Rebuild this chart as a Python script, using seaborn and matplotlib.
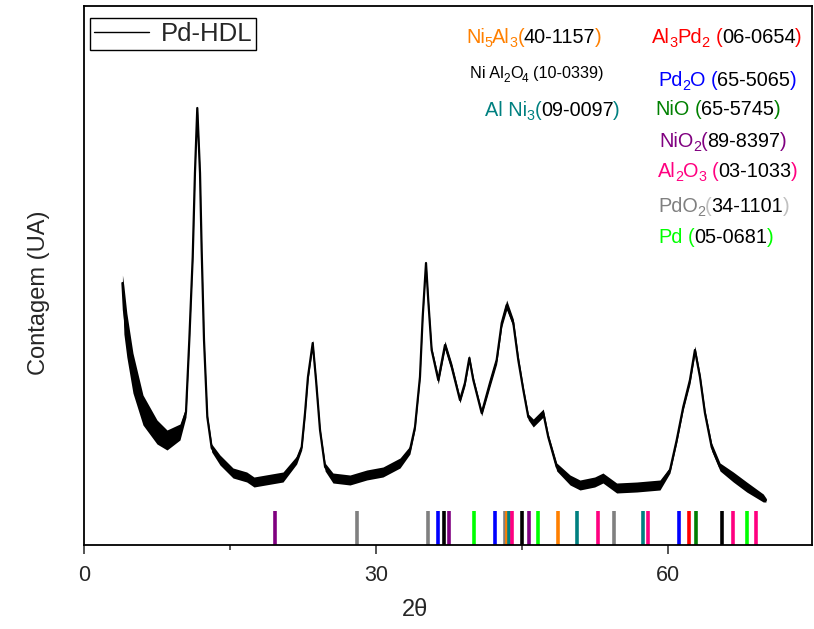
import numpy as np
import pandas as pd
import seaborn as sns
import matplotlib.pyplot as plt

# XRD pattern of Pd-HDL (arbitrary units)
two_theta = [3.95, 4.1, 4.4, 5.03, 6.06, 7.50, 8.53, 9.86, 10.48, 10.82, 11.17, 11.40,
             11.64, 11.92, 12.09, 12.33, 12.67, 13.12, 13.97, 15.31, 16.72, 17.47,
             20.45, 21.85, 22.37, 22.71, 23.01, 23.50, 23.84, 24.25, 24.77, 25.58,
             27.33, 29.05, 30.72, 32.47, 33.49, 34.01, 34.52, 34.80, 35.14, 35.37,
             35.72, 36.40, 37.09, 37.78, 38.63, 39.14, 39.59, 40.00, 40.86, 41.71,
             42.40, 42.92, 43.43, 44.11, 44.62, 45.14, 45.65, 46.16, 47.19, 47.70,
             48.57, 49.94, 50.96, 52.47, 53.32, 54.73, 56.79, 59.18, 60.21, 60.90,
             61.57, 62.26, 62.77, 63.29, 63.80, 64.49, 65.35, 66.71, 68.09, 69.79,
             70.07]
counts = [262, 235, 210, 172, 135, 113, 105, 113, 133, 205, 288, 372,
          437, 372, 295, 205, 128, 97, 85, 72, 68, 63,
          68, 85, 98, 132, 168, 202, 165, 115, 78, 67,
          65, 70, 73, 82, 95, 118, 168, 228, 282, 245,
          195, 165, 200, 178, 145, 162, 187, 165, 132, 162,
          185, 222, 240, 222, 185, 155, 128, 122, 132, 108,
          78, 65, 60, 63, 67, 57, 58, 60, 75, 105,
          138, 165, 195, 168, 132, 98, 78, 68, 58, 47,
          45]
noise = [8, 24, 22, 20, 15, 12, 10, 8, 5, 2, 2, 2,
         2, 2, 2, 2, 3, 4, 5, 5, 5, 5,
         5, 4, 3, 3, 3, 3, 2, 2, 4, 5,
         5, 5, 5, 5, 4, 3, 2, 2, 2, 2,
         3, 4, 4, 4, 3, 3, 3, 3, 3, 4,
         4, 4, 5, 4, 4, 3, 3, 4, 4, 3,
         4, 5, 5, 5, 5, 5, 5, 5, 3, 3,
         3, 4, 4, 3, 3, 4, 4, 5, 5, 4,
         2]

# reference cards (JCPDS) - peak positions
phase_colors = ["#800080", "#808080", "#0000FF", "black", "#00FF00",
                "#FF8000", "#008080", "#FF0080", "#FF0000", "#008000"]
phase_peaks = [
    [19.6, 37.5, 45.75],              # NiO2
    [28.0, 35.3, 43.26, 54.5],        # PdO2
    [36.35, 42.18, 61.16],            # Pd2O
    [37.02, 44.97, 65.52],            # Ni Al2O4
    [40.1, 46.6, 68.1],               # Pd
    [43.43, 48.67],                   # Ni5Al3
    [43.7, 50.68, 57.46],             # Al Ni3
    [44.0, 52.84, 57.98, 66.71, 69.0],  # Al2O3
    [62.19],                          # Al3Pd2
    [62.88],                          # NiO
]

# card labels: (text, colour, subscript?)
card_labels = [
    [("Ni", "#FF8000", 0), ("5", "#FF8000", 1), ("Al", "#FF8000", 0), ("3", "#FF8000", 1),
     ("(", "#FF8000", 0), ("40-1157", "black", 0), (")", "#FF8000", 0)],
    [("Al", "#FF0000", 0), ("3", "#FF0000", 1), ("Pd", "#FF0000", 0), ("2", "#FF0000", 1),
     (" (", "#FF0000", 0), ("06-0654", "black", 0), (")", "#FF0000", 0)],
    [("Ni Al", "black", 0), ("2", "black", 1), ("O", "black", 0), ("4", "black", 1),
     (" (10-0339)", "black", 0)],
    [("Pd", "#0000FF", 0), ("2", "#0000FF", 1), ("O", "#0000FF", 0),
     (" (", "#0000FF", 0), ("65-5065", "black", 0), (")", "#0000FF", 0)],
    [("Al Ni", "#008080", 0), ("3", "#008080", 1),
     ("(", "#008080", 0), ("09-0097", "black", 0), (")", "#008080", 0)],
    [("NiO", "#008000", 0), (" (", "#008000", 0), ("65-5745", "black", 0), (")", "#008000", 0)],
    [("NiO", "#800080", 0), ("2", "#800080", 1),
     ("(", "#800080", 0), ("89-8397", "black", 0), (")", "#800080", 0)],
    [("Al", "#FF0080", 0), ("2", "#FF0080", 1), ("O", "#FF0080", 0), ("3", "#FF0080", 1),
     (" (", "#FF0080", 0), ("03-1033", "black", 0), (")", "#FF0080", 0)],
    [("PdO", "#808080", 0), ("2", "#808080", 1),
     ("(", "#C0C0C0", 0), ("34-1101", "black", 0), (")", "#C0C0C0", 0)],
    [("Pd", "#00FF00", 0), (" (", "#00FF00", 0), ("05-0681", "black", 0), (")", "#00FF00", 0)],
]

sns.set_theme(style="ticks")
plt.rcParams["font.family"] = ["Liberation Sans", "DejaVu Sans"]

W, H = 814, 629
fig = plt.figure(figsize=(W / 100, H / 100), dpi=100)
ax = fig.add_axes([84 / W, 1 - 545 / H, 728 / W, 539 / H])

df = pd.DataFrame({"two_theta": two_theta, "counts": counts, "noise": noise})
ax.fill_between(df.two_theta, df.counts - df.noise, df.counts + df.noise,
                color="black", lw=0)
sns.lineplot(data=df, x="two_theta", y="counts", color="black", lw=1.6,
             ax=ax, label="Pd-HDL")

for col, peaks in zip(phase_colors, phase_peaks):
    ax.vlines(peaks, 0, 34, colors=col, lw=2.6)

ax.set_xlim(0, 74.8)
ax.set_ylim(0, 539)
ax.set_xticks([0, 30, 60])
ax.set_xticks([15, 45], minor=True)
ax.set_yticks([])
ax.tick_params(axis="x", which="major", length=6.5, width=1.1, labelsize=15.5, pad=8)
ax.tick_params(axis="x", which="minor", length=3.6, width=1.1)
for sp in ax.spines.values():
    sp.set_linewidth(1.3)
    sp.set_color("black")
ax.set_xlabel("2θ", fontsize=17)
ax.set_ylabel("Contagem (UA)", fontsize=17)
ax.xaxis.set_label_coords(0.455, -0.1)
ax.yaxis.set_label_coords(-0.047, 0.4675)

leg = ax.legend(loc="upper left", bbox_to_anchor=(0.008, 0.978), fontsize=18.5,
                frameon=True, fancybox=False, edgecolor="black", framealpha=1,
                handlelength=2.15, borderpad=0.15, handletextpad=0.45, borderaxespad=0)
leg.get_frame().set_linewidth(1.0)
leg.get_lines()[0].set_linewidth(1.0)


def rich_text(x_px, y_px, parts, size):
    # x_px, y_px: left end of baseline, in pixels from top-left of the figure
    renderer = fig.canvas.get_renderer()
    px_pt = fig.dpi / 72
    x = x_px
    for txt, col, sub in parts:
        if txt.startswith(" "):
            x += 0.3 * size * px_pt
            txt = txt.lstrip()
        fs = size * 0.72 if sub else size
        y = y_px + (0.22 * size * px_pt if sub else 0)
        t = fig.text(x / W, 1 - y / H, txt, color=col, fontsize=fs,
                     ha="left", va="baseline")
        x += t.get_window_extent(renderer).width - 0.3


label_xy = [(466, 43), (652, 43), (470, 78), (658, 86), (485, 116),
            (655, 115), (659, 147), (658, 177), (658, 212), (658, 243)]
label_size = [14.3, 14.5, 11.7, 14.3, 14.3, 14.3, 14.3, 14.3, 14.3, 14.3]
for (lx, ly), parts, size in zip(label_xy, card_labels, label_size):
    rich_text(lx, ly, parts, size)

fig.savefig("out.png", dpi=100)
plt.close()
